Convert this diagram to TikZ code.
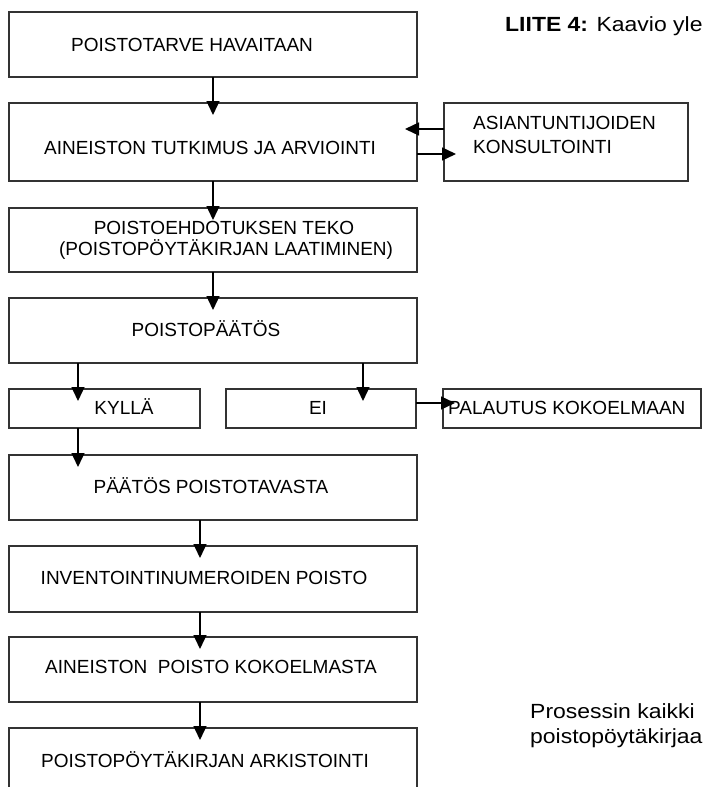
\documentclass[tikz,border=0pt]{standalone}
\usepackage{fontspec}
\setmainfont{Liberation Sans}
\newfontfamily\widefont{Liberation Sans}[FakeStretch=1.12]
\usetikzlibrary{arrows.meta}
\begin{document}
\begin{tikzpicture}[x=1pt,y=-1pt,
  box/.style={draw=black!80, line width=1.4pt, minimum width=408pt, inner sep=0pt, outer sep=0pt, anchor=north west},
  txt/.style={font=\fontsize{19}{21}\selectfont, inner sep=0pt, anchor=base},
  txtl/.style={txt, anchor=base west},
  side/.style={font=\widefont\fontsize{20.5}{24}\selectfont, inner sep=0pt, anchor=base west},
  arr/.style={draw=black, line width=1.3pt, -{Triangle[length=14pt,width=13pt]}, shorten >=-12pt}]
\useasboundingbox (0,0) rectangle (703,787);
% boxes
\node[box, minimum height=65pt] (b1) at (9,12) {};
\node[box, minimum height=78pt] (b2) at (9,103) {};
\node[box, minimum height=78pt, minimum width=244pt] (cons) at (444,103) {};
\node[box, minimum height=64pt] (b3) at (9,208) {};
\node[box, minimum height=65pt] (b4) at (9,298) {};
\node[box, minimum height=39pt, minimum width=191pt] (kylla) at (9,389) {};
\node[box, minimum height=39pt, minimum width=190pt] (ei) at (226,389) {};
\node[box, minimum height=39pt, minimum width=258pt] (pal) at (443,389) {};
\node[box, minimum height=65pt] (b5) at (9,455) {};
\node[box, minimum height=66pt] (b6) at (9,546) {};
\node[box, minimum height=65pt] (b7) at (9,637) {};
\node[box, minimum height=66pt] (b8) at (9,728) {};
% texts
\node[txt] (t1) at (192,51.8) {POISTOTARVE HAVAITAAN};
\node[txt] (t2) at (210,154.8) {AINEISTON TUTKIMUS JA ARVIOINTI};
\node[txt] (t3a) at (224,234.8) {POISTOEHDOTUKSEN TEKO};
\node[txt] (t3b) at (226,255.8) {(POISTOPÖYTÄKIRJAN LAATIMINEN)};
\node[txt] (t4) at (206,336.8) {POISTOPÄÄTÖS};
\node[txt] (tk) at (124,414.8) {KYLLÄ};
\node[txt] (te) at (318,414.8) {EI};
\node[txtl] (tp) at (448,414.8) {PALAUTUS KOKOELMAAN};
\node[txt] (t5) at (211,493.8) {PÄÄTÖS POISTOTAVASTA};
\node[txt] (t6) at (204,584.8) {INVENTOINTINUMEROIDEN POISTO};
\node[txt] (t7) at (211,673.8) {AINEISTON\ \ POISTO KOKOELMASTA};
\node[txt] (t8) at (205,767.8) {POISTOPÖYTÄKIRJAN ARKISTOINTI};
\node[txtl] (tc1) at (473,129.8) {ASIANTUNTIJOIDEN};
\node[txtl] (tc2) at (473,153.8) {KONSULTOINTI};
\node[side] (liite) at (505,31.3) {\textbf{LIITE 4:} Kaavio yle};
\node[side] (pr1) at (530,718) {Prosessin kaikki};
\node[side] (pr2) at (530,743) {poistopöytäkirjaa};
% connector positions
\coordinate (xa) at (213,0);
\coordinate (xb) at (200,0);
\coordinate (xk) at (78,0);
\coordinate (xe) at (363,0);
\coordinate (ya) at (0,129);
\coordinate (yb) at (0,154);
\coordinate (yc) at (0,403);
% connectors
\draw[arr] (b1.south -| xa) -- (b2.north -| xa);
\draw[arr] (cons.west |- ya) -- (b2.east |- ya);
\draw[arr] (b2.east |- yb) -- (cons.west |- yb);
\draw[arr] (b2.south -| xa) -- (b3.north -| xa);
\draw[arr] (b3.south -| xa) -- (b4.north -| xa);
\draw[arr] (b4.south -| xk) -- (kylla.north -| xk);
\draw[arr] (b4.south -| xe) -- (ei.north -| xe);
\draw[arr] (ei.east |- yc) -- (pal.west |- yc);
\draw[arr] (kylla.south -| xk) -- (b5.north -| xk);
\draw[arr] (b5.south -| xb) -- (b6.north -| xb);
\draw[arr] (b6.south -| xb) -- (b7.north -| xb);
\draw[arr] (b7.south -| xb) -- (b8.north -| xb);
\end{tikzpicture}
\end{document}
